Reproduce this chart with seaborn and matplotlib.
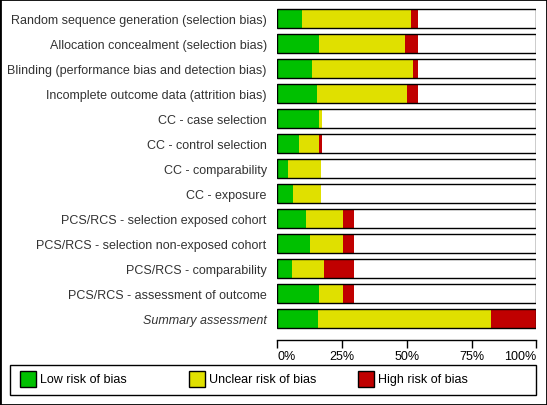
import matplotlib
matplotlib.use("Agg")
import matplotlib.pyplot as plt
from matplotlib.patches import Rectangle
import seaborn as sns
import pandas as pd

# Risk of bias domains (top to bottom)
domains = [
    "Random sequence generation (selection bias)",
    "Allocation concealment (selection bias)",
    "Blinding (performance bias and detection bias)",
    "Incomplete outcome data (attrition bias)",
    "CC - case selection",
    "CC - control selection",
    "CC - comparability",
    "CC - exposure",
    "PCS/RCS - selection exposed cohort",
    "PCS/RCS - selection non-exposed cohort",
    "PCS/RCS - comparability",
    "PCS/RCS - assessment of outcome",
    "Summary assessment",
]
# percentages
low = [9.5, 16.1, 13.4, 15.3, 16.1, 8.4, 4.0, 6.1, 11.1, 12.6, 5.7, 16.1, 15.7]
unclear = [42.1, 33.2, 39.0, 34.8, 1.2, 7.7, 12.9, 10.8, 14.3, 12.8, 12.3, 9.3, 66.8]
high = [2.6, 4.9, 1.8, 4.1, 0.0, 1.2, 0.0, 0.0, 4.1, 4.1, 11.5, 4.1, 17.5]
frame = [100] * len(domains)

tick_values = [0, 25, 50, 75, 100]
tick_labels = ["0%", "25%", "50%", "75%", "100%"]

legend_labels = ["Low risk of bias", "Unclear risk of bias", "High risk of bias"]
colors = {"low": "#00c000", "unclear": "#e0e000", "high": "#c00000"}

df = pd.DataFrame({"domain": domains, "low": low, "unclear": unclear, "high": high, "frame": frame})
df["cum_unclear"] = df["low"] + df["unclear"]
df["cum_high"] = df["cum_unclear"] + df["high"]

sns.set_style("white")
plt.rcParams["font.family"] = ["Liberation Sans", "DejaVu Sans"]

W, H = 547, 406
fig = plt.figure(figsize=(W / 100, H / 100), dpi=100)
ax = fig.add_axes([277.3 / W, 1 - 341 / H, 259 / W, (341 - 7.2) / H])

bar_w = 0.77
# stacked bars: draw cumulative totals back to front
sns.barplot(data=df, x="cum_high", y="domain", color=colors["high"], saturation=1,
            width=bar_w, errorbar=None, linewidth=0, orient="h", ax=ax)
sns.barplot(data=df, x="cum_unclear", y="domain", color=colors["unclear"], saturation=1,
            width=bar_w, errorbar=None, linewidth=0, orient="h", ax=ax)
sns.barplot(data=df, x="low", y="domain", color=colors["low"], saturation=1,
            width=bar_w, errorbar=None, linewidth=0, orient="h", ax=ax)
sns.barplot(data=df, x="frame", y="domain", color="black", fill=False, saturation=1,
            width=bar_w, errorbar=None, linewidth=1, orient="h", ax=ax)

ax.set_xlim(0, 100)
ax.set_ylim(-0.5 + (341 - 7.2) / 25, -0.5)
ax.set_xlabel("")
ax.set_ylabel("")
for s in ["top", "left", "right"]:
    ax.spines[s].set_visible(False)
ax.spines["bottom"].set_color("black")
ax.spines["bottom"].set_linewidth(1)

ax.set_xticks(tick_values)
ax.set_xticklabels(tick_labels)
ax.tick_params(axis="x", bottom=True, direction="out", length=6, width=1, color="black",
               labelsize=9, labelcolor="black", pad=1)
xt = ax.get_xticklabels()
xt[0].set_ha("left")
xt[-1].set_ha("right")

ax.tick_params(axis="y", left=False, length=0, pad=7.6, labelsize=9, labelcolor="#333333")
ax.get_yticklabels()[-1].set_fontstyle("italic")

# legend box
fig.patches.append(Rectangle((10 / W, 1 - 396 / H), 526 / W, 30.3 / H, transform=fig.transFigure,
                             fill=False, edgecolor="black", linewidth=1))
for x0, key, label in zip([20, 189, 358], ["low", "unclear", "high"], legend_labels):
    fig.patches.append(Rectangle((x0 / W, 1 - 388 / H), 16 / W, 16 / H, transform=fig.transFigure,
                                 facecolor=colors[key], edgecolor="black", linewidth=1))
    fig.text((x0 + 20) / W, 1 - 380 / H, label, fontsize=9, color="black", va="center", ha="left")

# outer border
fig.patches.append(Rectangle((0, 0), 1, 1, transform=fig.transFigure,
                             fill=False, edgecolor="black", linewidth=2))

fig.savefig("out.png", dpi=100, facecolor="white")
